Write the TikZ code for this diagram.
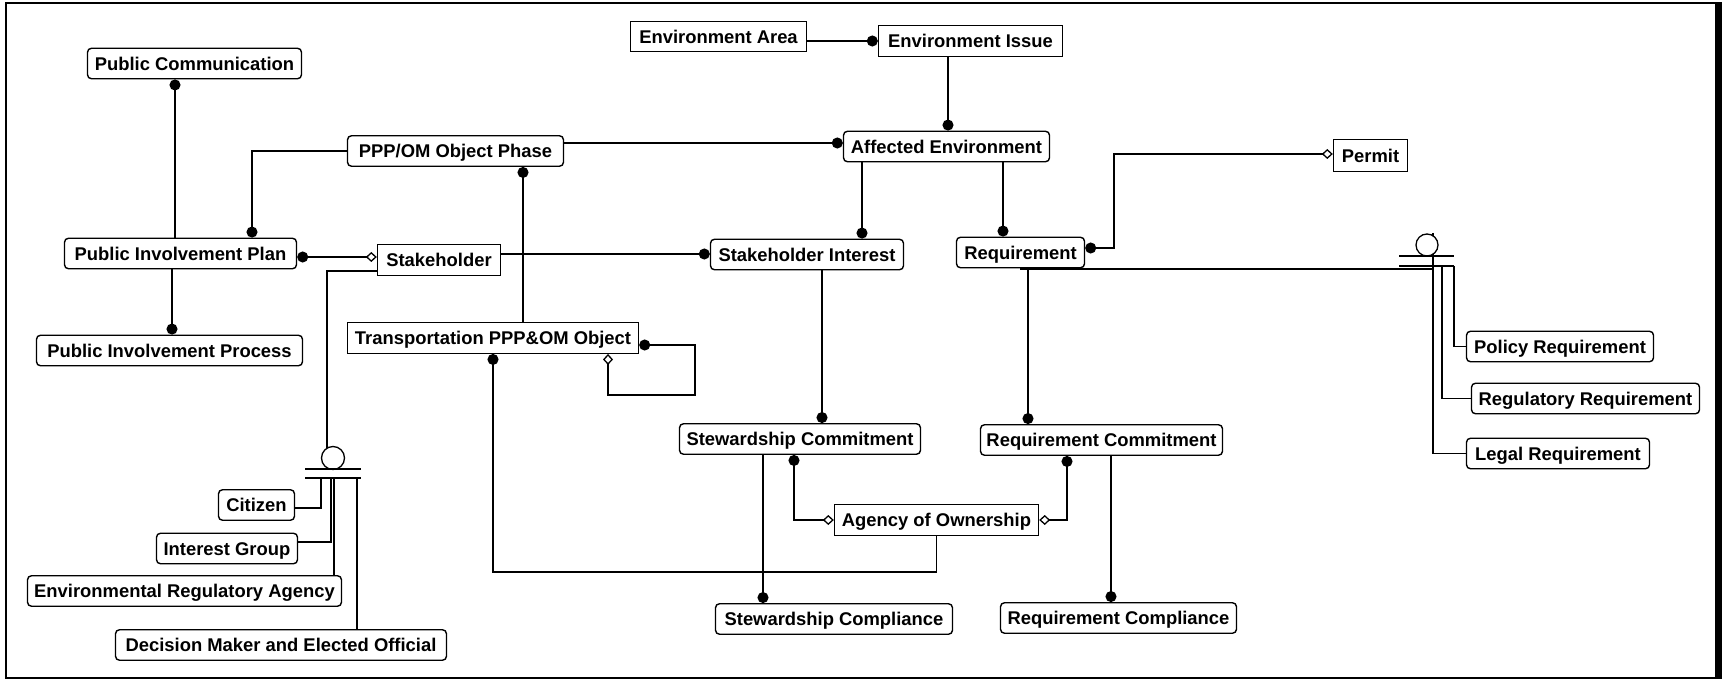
\documentclass[tikz,border=0pt]{standalone}
\usepackage{fontspec}
\setmainfont{Liberation Sans}
\usetikzlibrary{arrows.meta}

\tikzset{
  entity/.style={draw, line width=1.4pt, fill=white, inner sep=0pt,
    minimum height=30.5pt, text height=13.2pt, text depth=0pt,
    font=\fontsize{18.4}{20}\selectfont\bfseries},
  rentity/.style={entity, rounded corners=4pt},
  link/.style={line width=1.3pt},
  catcircle/.style={circle, draw, line width=1.3pt, fill=white, inner sep=0pt, minimum size=22pt},
  dot/.tip={Circle[length=11pt]},
  odiam/.tip={Diamond[open, length=11pt, width=10pt]}
}

\begin{document}
\begin{tikzpicture}[x=1pt, y=-1pt]
  \useasboundingbox (0,0) rectangle (1722,679);
  % frame
  \draw[line width=2.4pt] (5.7,2.9) rectangle (1716,677.8);
  \fill (1716,1.7) rectangle (1722,679);

  % entities
  \node[rentity, minimum width=214] (pubcomm) at (194.5,63.5) {Public Communication};
  \node[entity, minimum width=176] (envarea) at (718.5,36.5) {Environment Area};
  \node[entity, minimum width=184] (envissue) at (970.5,41) {Environment Issue};
  \node[rentity, minimum width=216] (phase) at (455.5,151) {PPP/OM Object Phase};
  \node[rentity, minimum width=206] (affenv) at (946.5,146.5) {Affected Environment};
  \node[entity, minimum width=74, minimum height=32] (permit) at (1370.5,155.5) {Permit};
  \node[rentity, minimum width=232] (pip) at (180.5,253.5) {Public Involvement Plan};
  \node[entity, minimum width=123] (stakeholder) at (439,260) {Stakeholder};
  \node[rentity, minimum width=193] (stakeint) at (807,254.5) {Stakeholder Interest};
  \node[rentity, minimum width=128] (req) at (1020.5,252.5) {Requirement};
  \node[rentity, minimum width=266] (pipproc) at (169.5,350.5) {Public Involvement Process};
  \node[entity, minimum width=291] (tobject) at (493,338) {Transportation PPP\&OM Object};
  \node[rentity, minimum width=187] (policy) at (1560,346.5) {Policy Requirement};
  \node[rentity, minimum width=228] (regulatory) at (1585.5,398.5) {Regulatory Requirement};
  \node[rentity, minimum width=183] (legal) at (1558,453.5) {Legal Requirement};
  \node[rentity, minimum width=241] (stewcomm) at (800,439) {Stewardship Commitment};
  \node[rentity, minimum width=242] (reqcomm) at (1101.5,440) {Requirement Commitment};
  \node[entity, minimum width=204] (agency) at (936.5,520) {Agency of Ownership};
  \node[rentity, minimum width=76] (citizen) at (256.5,505) {Citizen};
  \node[rentity, minimum width=141] (intgroup) at (227,548.5) {Interest Group};
  \node[rentity, minimum width=314] (era) at (184.5,591) {Environmental Regulatory Agency};
  \node[rentity, minimum width=331] (decision) at (281,645) {Decision Maker and Elected Official};
  \node[rentity, minimum width=237] (stewcompl) at (834,619) {Stewardship Compliance};
  \node[rentity, minimum width=236] (reqcompl) at (1118.5,618) {Requirement Compliance};

  % relationships
  \draw[link, -dot] (175,0 |- pip.north) -- (175,0 |- pubcomm.south);
  \draw[link, -dot] (phase.west) -| (252,0 |- pip.north);
  \draw[link, -dot] (phase.east |- 0,143) -- (affenv.west |- 0,143);
  \draw[link, -dot] (523,0 |- tobject.north) -- (523,0 |- phase.south);
  \draw[link, dot-odiam] (pip.east |- 0,257) -- (stakeholder.west |- 0,257);
  \draw[link, -dot] (172,0 |- pip.south) -- (172,0 |- pipproc.north);
  \draw[link, -dot] (stakeholder.east |- 0,254) -- (stakeint.west |- 0,254);
  \draw[link, -dot] (envarea.east |- 0,41) -- (envissue.west |- 0,41);
  \draw[link, -dot] (948,0 |- envissue.south) -- (948,0 |- affenv.north);
  \draw[link, -dot] (862,0 |- affenv.south) -- (862,0 |- stakeint.north);
  \draw[link, -dot] (1003,0 |- affenv.south) -- (1003,0 |- req.north);
  \draw[link, dot-odiam] (req.east |- 0,248) -| (1114,154) -- (permit.west |- 0,154);
  \draw[link, -dot] (822,0 |- stakeint.south) -- (822,0 |- stewcomm.north);
  \draw[link, -dot] (1028,0 |- req.south) -- (1028,0 |- reqcomm.north);
  \draw[link, dot-odiam] (tobject.east |- 0,345) -| (695,395) -| (608,0 |- tobject.south);
  \draw[link, dot-] (493,0 |- tobject.south) |- (agency.south |- 0,572) -- (agency.south);
  \draw[link, -dot] (763,0 |- stewcomm.south) -- (763,0 |- stewcompl.north);
  \draw[link, dot-odiam] (794,0 |- stewcomm.south) |- (agency.west);
  \draw[link, dot-odiam] (1067,0 |- reqcomm.south) |- (agency.east);
  \draw[link, -dot] (1111,0 |- reqcomm.south) -- (1111,0 |- reqcompl.north);

  % stakeholder categories
  \coordinate (stakecat) at (333,458);
  \draw[link] (stakeholder.west |- 0,271) -| ([xshift=-6]stakecat);
  \node[catcircle, minimum size=23pt] at (stakecat) {};
  \draw[link] (305,469) -- (361,469);
  \draw[link] (305,478) -- (361,478);
  \draw[link] (321,478) |- (citizen.east |- 0,508);
  \draw[link] (331,478) |- (intgroup.east |- 0,542);
  \draw[link] (334,478) -- (334,0 |- era.north);
  \draw[link] (357,478) -- (357,0 |- decision.north);

  % requirement categories
  \coordinate (reqcat) at (1427,245);
  \draw[link] (1020,269) -- (1433,269);
  \draw[link] (1433,233) |- (legal.west);
  \node[catcircle] at (reqcat) {};
  \draw[link] (1399,256) -- (1454,256);
  \draw[link] (1399,266) -- (1454,266);
  \draw[link] (1454,266) |- (policy.west);
  \draw[link] (1442,266) |- (regulatory.west);
\end{tikzpicture}
\end{document}
